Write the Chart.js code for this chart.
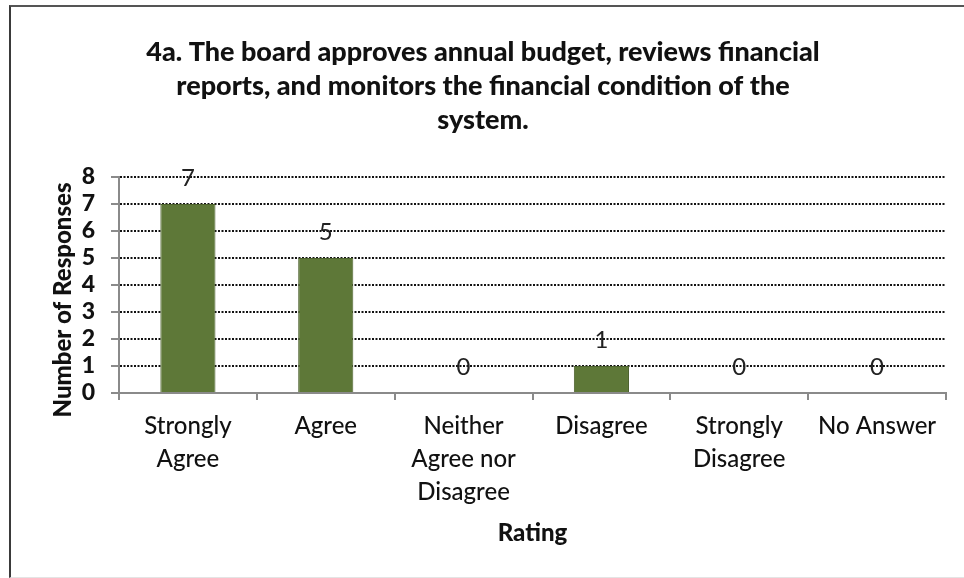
<!DOCTYPE html>
<html>
<head>
<meta charset="utf-8">
<script src="https://cdn.jsdelivr.net/npm/chart.js@4"></script>
<style>
  html, body { margin: 0; padding: 0; background: #fff; }
  #wrap { position: relative; width: 964px; height: 578px; overflow: hidden; }
  #frame { position: absolute; left: 9px; top: 5px; width: 980px; height: 570px;
           border-left: 2px solid #3a3a3a; border-top: 2px solid #555; border-bottom: 1px solid #e4e4e4; }
  canvas { position: absolute; left: 0; top: 0; }
</style>
</head>
<body>
<div id="wrap">
  <div id="frame"></div>
  <canvas id="myBarChart" width="964" height="578"></canvas>
</div>
<script>
const titleLines = [
  "4a. The board approves annual budget, reviews financial",
  "reports, and monitors the financial condition of the",
  "system."
];
const categories = [
  ["Strongly", "Agree"],
  ["Agree"],
  ["Neither", "Agree nor", "Disagree"],
  ["Disagree"],
  ["Strongly", "Disagree"],
  ["No Answer"]
];
const responses = [7, 5, 0, 1, 0, 0];
const yMin = 0;
const yMax = 8;
const yTitle = "Number of Responses";

// angka di atas batang + judul sumbu Y
const extraText = {
  id: "extraText",
  afterDatasetsDraw(chart) {
    const ctx = chart.ctx;
    const meta = chart.getDatasetMeta(0);
    ctx.save();
    ctx.font = "24px Lato";
    ctx.fillStyle = "#222";
    ctx.textAlign = "center";
    ctx.textBaseline = "middle";
    meta.data.forEach((bar, i) => {
      ctx.fillText(String(responses[i]), bar.x, bar.y - 26);
    });
    ctx.restore();
  },
  afterDraw(chart) {
    const ctx = chart.ctx;
    const area = chart.chartArea;
    ctx.save();
    ctx.translate(63, (area.top + area.bottom) / 2 + 15);
    ctx.rotate(-Math.PI / 2);
    ctx.font = "900 24px Lato";
    ctx.fillStyle = "#111";
    ctx.textAlign = "center";
    ctx.textBaseline = "middle";
    ctx.fillText(yTitle, 0, 0);
    ctx.restore();
  }
};

const ctx = document.getElementById("myBarChart").getContext("2d");
const myBarChart = new Chart(ctx, {
  type: "bar",
  data: {
    labels: categories,
    datasets: [{
      label: yTitle,
      data: responses,
      backgroundColor: "#5e7838",
      borderColor: "#4b602c",
      borderWidth: 1,
      barPercentage: 0.4,
      categoryPercentage: 1
    }]
  },
  options: {
    responsive: false,
    animation: false,
    layout: { padding: { left: 20, right: 18, top: 0, bottom: 20 } },
    scales: {
      x: {
        grid: { drawOnChartArea: false, tickLength: 7, color: "#8a8a8a", lineWidth: 2, offset: true },
        border: { color: "#8a8a8a", width: 2 },
        ticks: {
          color: "#111",
          padding: 10,
          maxRotation: 0,
          autoSkip: false,
          font: { family: "Lato", size: 24, weight: "500", lineHeight: 1.375 }
        },
        title: {
          display: true,
          text: "Rating",
          color: "#111",
          font: { family: "Lato", size: 24, weight: "900", lineHeight: 1.2 },
          padding: { top: 0, bottom: 10 }
        },
        afterFit(scale) { scale.height = 165; }
      },
      y: {
        min: yMin,
        max: yMax,
        grid: {
          color: c => (c.tick && c.tick.value === 0 ? "rgba(0,0,0,0)" : "#111"),
          lineWidth: 2,
          tickColor: "#8a8a8a",
          tickLength: 8,
          tickWidth: 2
        },
        border: { color: "#8a8a8a", width: 2, dash: [2, 1.5] },
        ticks: {
          color: "#111",
          padding: 16,
          stepSize: 1,
          autoSkip: false,
          font: { family: "Lato", size: 23, weight: "900" }
        },
        afterFit(scale) { scale.width = 99; }
      }
    },
    plugins: {
      legend: { display: false },
      tooltip: { enabled: false },
      title: {
        display: true,
        text: titleLines,
        color: "#111",
        font: { family: "Lato", size: 27, weight: "900", lineHeight: 1.27 },
        padding: { top: 35, bottom: 39 }
      }
    }
  },
  plugins: [extraText]
});
</script>
</body>
</html>
